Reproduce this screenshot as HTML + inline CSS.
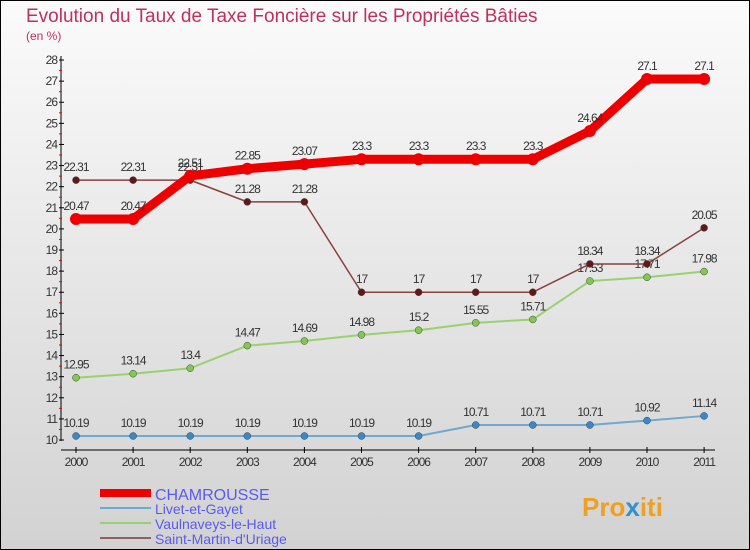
<!DOCTYPE html>
<html><head><meta charset="utf-8"><style>
body{margin:0}
#c{width:750px;height:550px;position:relative;box-sizing:border-box;border:1px solid #000;background:linear-gradient(#fbfbfb,#d2d2d2);font-family:"Liberation Sans",sans-serif;overflow:hidden}
</style></head><body>
<div id="c">
<svg width="750" height="550" id="s" style="position:absolute;left:-1px;top:-1px">
<text x="26" y="22" font-size="19" fill="#c0305a">Evolution du Taux de Taxe Foncière sur les Propriétés Bâties</text>
<text x="26" y="40" font-size="12" fill="#c0305a">(en %)</text>
<g id="ax"></g><g id="ser"></g>
<g>
<rect x="100" y="489" width="51" height="8" fill="#e00"/>
<text x="155" y="500" font-size="16" fill="#5a5af0">CHAMROUSSE</text>
<rect x="100" y="507" width="51" height="2" fill="#6fa8d0"/>
<text x="155" y="514" font-size="14" fill="#5a5af0">Livet-et-Gayet</text>
<rect x="100" y="522" width="51" height="2" fill="#9ad070"/>
<text x="155" y="529" font-size="14" fill="#5a5af0">Vaulnaveys-le-Haut</text>
<rect x="100" y="537" width="51" height="2" fill="#906060"/>
<text x="155" y="544" font-size="14" fill="#5a5af0">Saint-Martin-d'Uriage</text>
</g>
<text x="582" y="516" font-size="26" font-weight="bold" fill="#f0a020">Pro<tspan fill="#3090d0">x</tspan>iti</text>
</svg>
</div>
<script>
const years=[2000,2001,2002,2003,2004,2005,2006,2007,2008,2009,2010,2011];
const yTicks=[10,11,12,13,14,15,16,17,18,19,20,21,22,23,24,25,26,27,28];
const chamrousse=[20.47,20.47,22.51,22.85,23.07,23.3,23.3,23.3,23.3,24.64,27.1,27.1];
const livet=[10.19,10.19,10.19,10.19,10.19,10.19,10.19,10.71,10.71,10.71,10.92,11.14];
const vaulnaveys=[12.95,13.14,13.4,14.47,14.69,14.98,15.2,15.55,15.71,17.53,17.71,17.98];
const saintMartin=[22.31,22.31,22.31,21.28,21.28,17,17,17,17,18.34,18.34,20.05];
const NS="http://www.w3.org/2000/svg";
const X=i=>76+i*57.1, Y=v=>440-(v-10)*21.11;
function mk(t,a,p){const e=document.createElementNS(NS,t);for(const k in a)e.setAttribute(k,a[k]);p.appendChild(e);return e;}
const ax=document.getElementById('ax'), ser=document.getElementById('ser');
mk('line',{x1:61,y1:56,x2:61,y2:441,stroke:'#000'},ax);
mk('line',{x1:61,y1:450,x2:715,y2:450,stroke:'#000'},ax);
yTicks.forEach(v=>{
 mk('line',{x1:59,y1:Y(v),x2:64,y2:Y(v),stroke:'#000'},ax);
 if(v<28) mk('line',{x1:59,y1:Y(v+0.5),x2:62,y2:Y(v+0.5),stroke:'#e00'},ax);
 const t=mk('text',{x:57,y:Y(v)+4,'font-size':12,fill:'#333','text-anchor':'end','letter-spacing':'-1'},ax);t.textContent=v;
 
 
});
years.forEach((y,i)=>{
 mk('line',{x1:X(i),y1:447,x2:X(i),y2:453,stroke:'#000'},ax);
 const t=mk('text',{x:X(i),y:466,'font-size':12,fill:'#333','text-anchor':'middle','letter-spacing':'-1'},ax);t.textContent=y;
 
 
});
function series(d,col,w,r,dot,name){
 const g=mk('g',{},ser);
 
 
 mk('polyline',{points:d.map((v,i)=>X(i)+','+Y(v)).join(' '),fill:'none',stroke:col,'stroke-width':w,'stroke-linejoin':'round'},g);
 d.forEach((v,i)=>{
  const c=mk('circle',{cx:X(i),cy:Y(v),r:r,fill:dot,stroke:'#444','stroke-width':r>4?0:0.5},g);
  
  
  const t=mk('text',{x:X(i),y:Y(v)-9,'font-size':12,fill:'#333','text-anchor':'middle','letter-spacing':'-1'},g);t.textContent=v;
  
  
 });
}
series(livet,'#6fa8d0',2,3.5,'#3a88c8','livet');
series(vaulnaveys,'#9ad070',2,3.5,'#80c850','vaulnaveys');
series(saintMartin,'#8a4040',1.5,3.5,'#601818','saint-martin');
series(chamrousse,'#e00',9,6,'#e00','chamrousse');
</script>
</body></html>
